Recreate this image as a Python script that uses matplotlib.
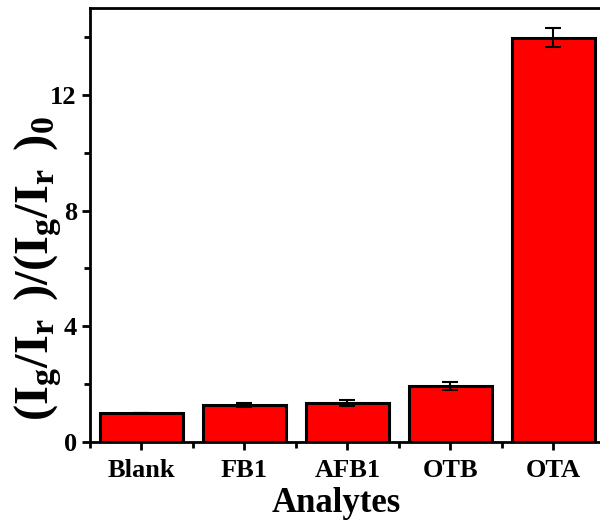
import matplotlib
matplotlib.use("Agg")
import matplotlib.pyplot as plt
from matplotlib.ticker import MultipleLocator, FixedLocator

plt.rcParams['font.family'] = 'Liberation Serif'
plt.rcParams['font.weight'] = 'bold'
plt.rcParams['mathtext.fontset'] = 'custom'
plt.rcParams['mathtext.rm'] = 'Liberation Serif:bold'
plt.rcParams['mathtext.bf'] = 'Liberation Serif:bold'
plt.rcParams['mathtext.it'] = 'Liberation Serif:bold'

analytes = ["Blank", "FB1", "AFB1", "OTB", "OTA"]
ratio = [1.0, 1.28, 1.35, 1.94, 13.97]
err = [0.0, 0.08, 0.1, 0.15, 0.33]

fig = plt.figure(figsize=(6, 5.27), dpi=100)
ax = fig.add_axes([0.15, 0.161, 0.858, 0.824])

pos = list(range(1, len(analytes) + 1))
ax.bar(pos, ratio, width=0.8, color="#ff0000", edgecolor="black", linewidth=2.2,
       yerr=err, capsize=6, error_kw=dict(elinewidth=1.5, capthick=1.5, ecolor="black"))

ax.set_xlim(0.5, 5.5)
ax.set_ylim(0, 15)
ax.set_xticks(pos)
ax.set_xticklabels(analytes)
ax.xaxis.set_minor_locator(FixedLocator([0.5, 1.5, 2.5, 3.5, 4.5]))
ax.yaxis.set_major_locator(MultipleLocator(4))
ax.yaxis.set_minor_locator(MultipleLocator(2))

for s in ax.spines.values():
    s.set_linewidth(2)
ax.tick_params(which="major", direction="out", length=6, width=2, labelsize=19)
ax.tick_params(axis="x", which="major", pad=6)
ax.tick_params(which="minor", direction="out", length=4, width=2)

ax.set_xlabel("Analytes", fontsize=25, fontweight="bold")
ax.xaxis.set_label_coords(0.478, -0.104)
ax.set_ylabel(r"$\mathbf{(I_g/I_r\;\,)/(I_g/I_r\;\,)_0}$", fontsize=35)
ax.yaxis.set_label_coords(-0.05, 0.40)

fig.savefig("out.png", dpi=100)
